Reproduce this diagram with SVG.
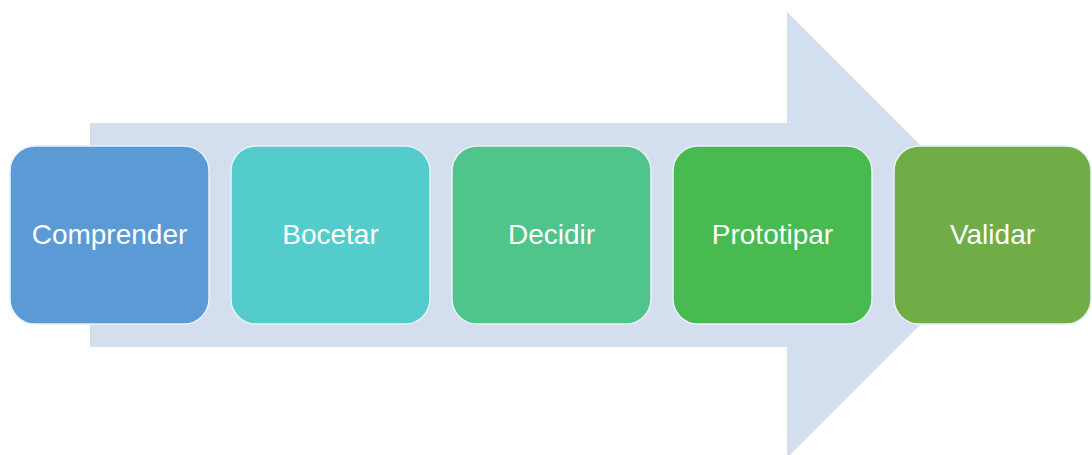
<svg xmlns="http://www.w3.org/2000/svg" width="1092" height="455" viewBox="0 0 1092 455">
<style>
.box{stroke:#EAF1F8;stroke-width:1.5}
.lbl{font-family:"Liberation Sans",Arial,sans-serif;font-size:28px;fill:#FFFFFF;text-anchor:middle}
</style>
<rect width="1092" height="455" fill="#FFFFFF"/>
<g id="arrow">
<polygon points="90,123 787,123 787,12 1010,235 787,458 787,347 90,347" fill="#D3DEEF"/>
</g>
<g id="connectors"></g>
<g id="comprender">
<rect class="box" x="10" y="146" width="199" height="178" rx="25" fill="#5B9BD5"/>
<text class="lbl" x="109.5" y="244">Comprender</text>
</g>
<g id="bocetar">
<rect class="box" x="231" y="146" width="199" height="178" rx="25" fill="#55CCCC"/>
<text class="lbl" x="330.5" y="244">Bocetar</text>
</g>
<g id="decidir">
<rect class="box" x="452" y="146" width="199" height="178" rx="25" fill="#4FC58C"/>
<text class="lbl" x="551.5" y="244">Decidir</text>
</g>
<g id="prototipar">
<rect class="box" x="673" y="146" width="199" height="178" rx="25" fill="#47BA50"/>
<text class="lbl" x="772.5" y="244">Prototipar</text>
</g>
<g id="validar">
<rect class="box" x="894" y="146" width="197" height="178" rx="25" fill="#70AD47"/>
<text class="lbl" x="992.5" y="244">Validar</text>
</g>
</svg>
